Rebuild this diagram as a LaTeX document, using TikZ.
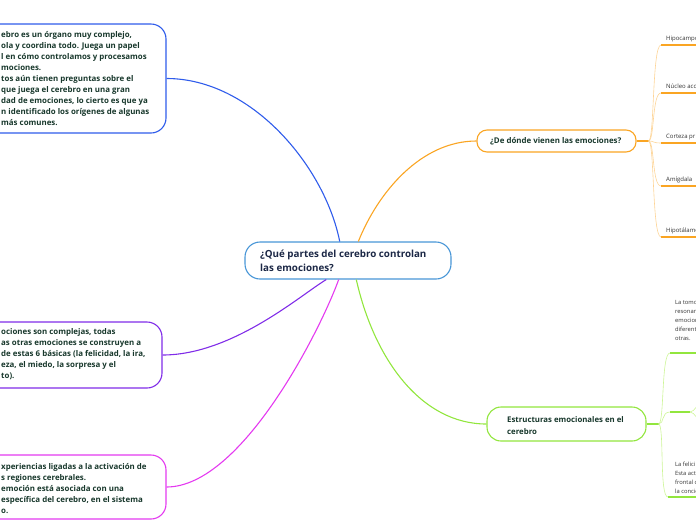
\documentclass[tikz,border=0pt]{standalone}
\usepackage{fontspec}
\setmainfont{Open Sans}
\usetikzlibrary{calc}
\definecolor{mapB}{RGB}{47,92,235}
\definecolor{mapV}{RGB}{128,44,232}
\definecolor{mapM}{RGB}{228,58,240}
\definecolor{mapO}{RGB}{250,165,35}
\definecolor{mapOl}{RGB}{253,212,150}
\definecolor{mapG}{RGB}{146,230,62}
\definecolor{mapGl}{RGB}{205,245,150}
\definecolor{mapC}{RGB}{72,150,215}
\definecolor{mapN}{RGB}{28,40,70}
\definecolor{mapT}{RGB}{24,56,44}
\definecolor{mapK}{RGB}{50,50,50}

\begin{document}
\begin{tikzpicture}[x=1pt,y=-1pt,
  box/.style={draw,line width=1.1pt,fill=white,inner sep=0pt},
  txt/.style={inner sep=0pt,align=left,anchor=west,text=mapT,font=\fontsize{7.9}{11}\selectfont\bfseries},
  leaf/.style={inner sep=0pt,anchor=base west,text=mapK,font=\fontsize{6}{9}\selectfont},
  note/.style={inner sep=0pt,align=left,anchor=west,text=mapK,font=\fontsize{5.8}{9}\selectfont},
  link/.style={line width=1.1pt},
  twig/.style={line width=0.6pt}]
\useasboundingbox (0,0) rectangle (696,520);
\clip (0,0) rectangle (696,520);
% boxes
\node[box,draw=mapC,rounded corners=15pt,minimum width=206pt,minimum height=37pt] (q) at (348,260.5) {};
\node[txt,text=mapN,font=\fontsize{9.8}{14}\selectfont\bfseries] (qt) at (260,261) {¿Qué partes del cerebro controlan\\las emociones?};
\node[box,draw=mapB,rounded corners=15pt,minimum width=206pt,minimum height=109pt] (intro) at (63,78.5) {};
\node[txt] (introt) at (1,79) {ebro es un órgano muy complejo,\\ola y coordina todo. Juega un papel\\l en cómo controlamos y procesamos\\mociones.\\tos aún tienen preguntas sobre el\\que juega el cerebro en una gran\\dad de emociones, lo cierto es que ya\\n identificado los orígenes de algunas\\ más comunes.};
\node[box,draw=mapV,rounded corners=15pt,minimum width=202pt,minimum height=66pt] (basic) at (61,355) {};
\node[txt] (basict) at (1,354.5) {ociones son complejas, todas\\as otras emociones se construyen a\\de estas 6 básicas (la felicidad, la ira,\\eza, el miedo, la sorpresa y el\\to).};
\node[box,draw=mapM,rounded corners=15pt,minimum width=206pt,minimum height=64pt] (exp) at (63,487) {};
\node[txt] (expt) at (1,488.5) {xperiencias ligadas a la activación de\\s regiones cerebrales.\\emoción está asociada con una\\específica del cerebro, en el sistema\\o.};
\node[box,draw=mapO,rounded corners=10pt,minimum width=159pt,minimum height=22pt] (orig) at (556.5,141) {};
\node[txt] (origt) at (490,141) {¿De dónde vienen las emociones?};
\node[box,draw=mapG,rounded corners=14pt,minimum width=159pt,minimum height=34pt] (struct) at (566.5,424) {};
\node[txt,font=\fontsize{7.8}{12}\selectfont\bfseries] (structt) at (507,426) {Estructuras emocionales en el\\cerebro};
% links to the centre
\coordinate (qb) at ($(q.north west)!0.46!(q.north east)$);
\coordinate (qo) at ($(q.north west)!0.55!(q.north east)$);
\coordinate (qv) at ($(q.south west)!0.395!(q.south east)$);
\coordinate (qm) at ($(q.south west)!0.455!(q.south east)$);
\coordinate (qg) at ($(q.south west)!0.54!(q.south east)$);
\draw[link,mapB] (intro.east) .. controls +(85,0) and +(-15,-75) .. (qb);
\draw[link,mapV] (basic.east) .. controls +(70,0) and +(-25,15) .. (qv);
\draw[link,mapM] (exp.east) .. controls +(75,0) and +(-18,50) .. (qm);
\draw[link,mapO] (qo) .. controls +(20,-50) and +(-55,0) .. (orig.west);
\draw[link,mapG] (qg) .. controls +(18,80) and +(-65,0) .. (struct.west);
% orange leaves
\coordinate (of) at ($(orig.east)+(12,0)$);
\draw[link,mapO] (orig.east) -- (of);
\foreach \n/\y/\t in {hipo/45/Hipocampo,nuc/93/Núcleo acc,cort/143/Corteza pr,amig/186/Amígdala,hipot/237/Hipotálamo}{
  \coordinate (\n-u) at (661,\y);
  \node[leaf] (\n) at (666,\y-4.5) {\t};
  \draw[twig,mapOl] (of) .. controls +(6,0) and +(-9,0) .. (\n-u);
  \draw[mapO,line width=1.4pt] (\n-u) -- ++(40,0);
}
% green leaves
\coordinate (gf) at ($(struct.east)+(12,0)$);
\draw[link,mapG] (struct.east) -- (gf);
\foreach \n/\x/\y/\l in {tomo/670/353/40,mid/670/412/20,feli/668/497/40}{
  \coordinate (\n-u) at (\x,\y);
  \draw[twig,mapGl] (gf) .. controls +(6,0) and +(-9,0) .. (\n-u);
  \draw[mapG,line width=1.4pt] (\n-u) -- ++(\l,0) coordinate (\n-e);
}
\coordinate (midup) at (702,402);
\coordinate (middn) at (702,422);
\draw[twig,mapGl] (mid-e) .. controls +(5,0) and +(-4,0) .. (midup);
\draw[twig,mapGl] (mid-e) .. controls +(5,0) and +(-4,0) .. (middn);
\node[note] (tomot) at (675,320) {La tomo\\resonan\\emocion\\diferent\\otras.};
\node[note] (felit) at (675,478) {La felici\\Esta act\\frontal c\\la concie};
\end{tikzpicture}
\end{document}
